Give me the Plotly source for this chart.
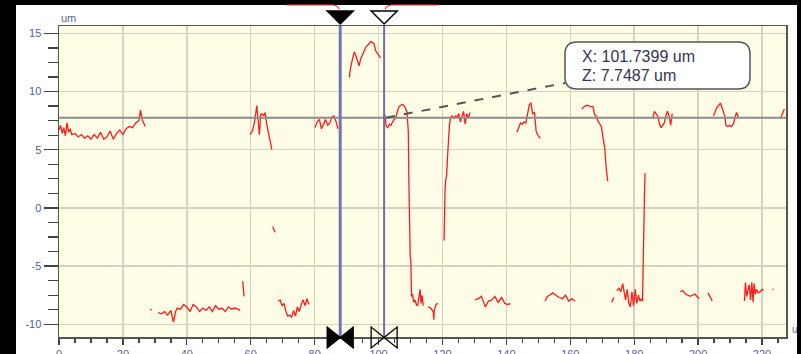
import plotly.graph_objects as go

# ---------------- data (x in um, z in um) ----------------
seg01_x = [0, 0.5, 1, 1.5, 2, 2.5, 3, 3.5, 4, 5, 6, 7, 8, 9, 10, 11, 12, 13, 14, 15, 16, 17, 18, 19, 20, 21, 22, 23, 24, 25, 25.5, 26, 27]
seg01_z = [6.7, 7.1, 6.4, 6.9, 6.2, 7.3, 6.5, 6.8, 6.3, 6.4, 6.1, 6.3, 6.0, 6.2, 5.9, 6.3, 6.0, 6.5, 5.9, 6.1, 6.6, 5.9, 6.4, 6.7, 6.3, 6.8, 7.0, 6.9, 7.3, 7.5, 8.4, 7.6, 7.0]
seg02_x = [28.5, 29.0]
seg02_z = [-8.7, -8.8]
seg03_x = [31, 32, 33, 34, 35, 35.8, 36.5, 37, 38, 39, 40, 41, 42, 43, 44, 45, 46, 47, 48, 49, 50, 51, 52, 53, 54, 55, 56, 56.7]
seg03_z = [-9.0, -9.1, -8.9, -9.2, -8.8, -9.8, -8.9, -8.6, -8.7, -8.3, -8.5, -8.9, -8.3, -8.5, -8.9, -8.6, -8.8, -8.5, -8.9, -8.4, -8.7, -8.6, -8.9, -8.5, -8.7, -8.6, -8.7, -8.8]
seg04_x = [57.5, 57.7, 57.9]
seg04_z = [-6.3, -6.9, -7.6]
seg05_x = [59.8, 60.5, 61.2, 61.6, 61.9, 62.3, 62.7, 63.1, 63.5, 64, 64.5, 65, 65.5, 66, 66.6]
seg05_z = [6.3, 6.6, 7.4, 8.2, 8.8, 7.6, 6.3, 8.0, 8.1, 7.9, 8.2, 7.2, 6.4, 5.6, 5.0]
seg06_x = [66.9, 67.2, 67.6]
seg06_z = [-1.6, -1.9, -2.1]
seg07_x = [68.6, 69.2, 69.8, 70.4, 71, 71.6, 72.2, 72.8, 73.4, 74, 74.6, 75.2, 75.8, 76.4, 77, 77.6, 78.2]
seg07_z = [-8.0, -7.9, -8.4, -8.2, -8.9, -9.3, -9.2, -9.4, -8.8, -9.3, -8.5, -8.9, -8.3, -7.9, -8.4, -7.8, -8.3]
seg08_x = [80.1, 80.8, 81.5, 82.1, 82.8, 83.4, 84.1, 84.7, 85.4, 86.0, 86.6, 87.3]
seg08_z = [6.9, 7.4, 7.6, 6.8, 7.2, 7.6, 7.1, 7.3, 7.8, 7.9, 7.5, 6.8]
seg09_x = [90.9, 91.0, 91.5, 91.9, 92.4, 92.9, 93.4, 93.9, 94.4, 94.9, 95.5, 96.0, 96.6, 97.1, 97.6, 98.1, 98.6, 99.1, 99.7, 100.2, 100.6]
seg09_z = [11.2, 11.6, 12.4, 12.9, 13.4, 13.1, 12.6, 12.2, 12.8, 13.2, 13.5, 13.8, 14.0, 14.2, 14.3, 14.2, 14.1, 13.5, 13.3, 13.1, 12.9]
seg10_x = [101.7, 102.0, 102.4, 102.9, 103.4, 103.9, 104.4, 104.9, 105.4, 105.9, 106.4, 106.9, 107.4, 107.9, 108.4, 108.9, 109.3, 109.5, 109.7, 109.9, 110.1, 110.3, 110.6, 111.0, 111.4, 111.8, 112.2, 112.6, 113.0, 113.3, 113.6, 114.0]
seg10_z = [7.75, 8.0, 7.0, 6.9, 7.2, 7.1, 7.4, 7.6, 7.8, 8.3, 8.7, 8.8, 8.9, 8.8, 8.6, 8.2, 6.6, 2.0, -2.0, -4.2, -4.5, -7.6, -7.4, -8.1, -7.9, -8.3, -8.4, -7.8, -7.0, -8.2, -7.5, -8.4]
seg11_x = [115.5, 116.3, 117.1, 117.3, 117.4, 118.0, 118.6]
seg11_z = [-8.5, -8.6, -8.9, -9.6, -8.8, -8.3, -8.2]
seg12_x = [120.5, 120.6, 120.8, 121.0, 121.3, 121.6, 121.9, 122.2, 122.6, 123.1, 123.6, 124.1, 124.6, 125.1, 125.6, 126.1, 126.6, 127.1, 127.6, 128.1, 128.6]
seg12_z = [-2.8, -0.5, 1.5, 2.4, 2.8, 4.5, 6.7, 7.2, 7.8, 7.9, 7.7, 7.9, 7.8, 8.1, 7.4, 7.9, 8.3, 7.2, 8.1, 7.7, 8.2]
seg13_x = [130.2, 131.2, 132.2, 132.8, 133.4, 134.4, 135.4, 136.4, 137.4, 138.5, 139.5, 140.5, 141.2]
seg13_z = [-7.9, -7.8, -7.6, -8.0, -8.5, -8.0, -7.9, -7.6, -8.1, -7.7, -8.2, -8.3, -8.2]
seg14_x = [143.3, 143.9, 144.4, 145.0, 145.5, 146.1, 146.6, 147.2, 147.7, 148.2, 148.8, 149.3, 149.9, 150.6]
seg14_z = [6.5, 7.0, 7.3, 7.2, 7.4, 7.3, 8.0, 8.9, 9.0, 8.1, 8.2, 6.6, 6.2, 6.0]
seg15_x = [152.1, 152.8, 153.5, 154.5, 155.5, 156.5, 157.5, 158.5, 159.5, 160.5, 161.5]
seg15_z = [-8.0, -7.6, -7.5, -7.3, -7.5, -7.7, -7.8, -7.5, -8.0, -7.8, -8.0]
seg16_x = [163.6, 164.3, 165.0, 165.6, 166.3, 167.1, 167.6, 168.1, 168.6, 169.2, 169.7, 170.1, 170.5, 170.8, 171.2, 171.5, 171.7]
seg16_z = [8.5, 8.7, 8.8, 8.8, 8.7, 8.7, 8.0, 7.9, 7.5, 7.2, 7.0, 6.3, 5.6, 5.1, 3.5, 2.8, 2.3]
seg17_x = [173.0, 173.6]
seg17_z = [-8.1, -7.7]
seg18_x = [174.6, 175.2, 175.8, 176.4, 176.9, 177.3, 177.8, 178.3, 178.8, 179.3, 179.8, 180.3, 180.8, 181.3, 181.8, 182.3, 182.6, 182.8, 183.0, 183.2, 183.4]
seg18_z = [-7.1, -6.9, -7.2, -6.5, -7.3, -7.9, -7.0, -8.2, -8.5, -7.2, -8.4, -7.0, -8.2, -7.5, -8.0, -7.8, -8.0, -4.2, 0.9, 1.0, 3.0]
seg19_x = [185.8, 186.3, 186.8, 187.4, 187.9, 188.4, 188.9, 189.4, 189.9, 190.4, 190.9, 191.4, 191.9]
seg19_z = [7.7, 8.3, 8.1, 7.9, 7.2, 6.9, 7.1, 7.3, 7.9, 8.3, 7.9, 7.1, 8.1]
seg20_x = [194.4, 195.2, 196.0, 196.8, 197.5, 198.2, 199.0, 199.6, 200.3]
seg20_z = [-7.2, -7.1, -7.4, -7.5, -7.6, -7.5, -7.4, -7.6, -7.8]
seg21_x = [203.1, 203.7, 204.4]
seg21_z = [-7.3, -7.6, -8.0]
seg22_x = [204.8, 205.3, 205.8, 206.4, 207.0, 207.5, 208.0, 208.4, 208.7, 209.2, 209.8, 210.4, 211.0, 211.5, 212.0, 212.6]
seg22_z = [7.9, 8.3, 8.6, 8.8, 9.0, 8.6, 8.1, 7.8, 7.1, 7.0, 7.1, 7.0, 7.2, 7.8, 8.2, 7.8]
seg23_x = [214.5, 214.8, 215.2, 215.6, 216.0, 216.4, 216.8, 217.2, 217.5, 217.9, 218.3, 218.8, 219.4, 220.0, 220.5]
seg23_z = [-8.0, -6.4, -7.6, -7.2, -6.6, -7.9, -6.4, -8.1, -6.5, -7.4, -7.0, -7.3, -7.2, -7.0, -7.1]
seg24_x = [223.2, 223.6]
seg24_z = [-7.0, -7.0]
seg25_x = [225.8, 226.4, 227.0]
seg25_z = [7.7, 8.2, 8.5]

segments = [
    (seg01_x, seg01_z), (seg02_x, seg02_z), (seg03_x, seg03_z), (seg04_x, seg04_z),
    (seg05_x, seg05_z), (seg06_x, seg06_z), (seg07_x, seg07_z), (seg08_x, seg08_z),
    (seg09_x, seg09_z), (seg10_x, seg10_z), (seg11_x, seg11_z), (seg12_x, seg12_z),
    (seg13_x, seg13_z), (seg14_x, seg14_z), (seg15_x, seg15_z), (seg16_x, seg16_z),
    (seg17_x, seg17_z), (seg18_x, seg18_z), (seg19_x, seg19_z), (seg20_x, seg20_z),
    (seg21_x, seg21_z), (seg22_x, seg22_z), (seg23_x, seg23_z), (seg24_x, seg24_z),
    (seg25_x, seg25_z),
]

cursor1_x = 88.0
cursor2_x = 101.7399
cursor2_z = 7.7487

x_range = [0, 227.5]
y_range = [-11.09, 15.63]
x_tickvals = [0, 20, 40, 60, 80, 100, 120, 140, 160, 180, 200, 220]
y_tickvals = [-10, -5, 0, 5, 10, 15]
y_ticktext = ["-10", "-5", "0", "5", "10", "15"]
unit_label = "um"
readout_lines = [f"X: {cursor2_x:.4f} um", f"Z: {cursor2_z:.4f} um"]

# ---------------- geometry helpers ----------------
W, H = 801, 354
ML, MR, MT, MB = 59, 15, 26, 17
PW, PH = W - ML - MR, H - MT - MB


def px2p(px, py):
    return (px - ML) / PW, (H - MB - py) / PH


def P(px, py):
    a, b = px2p(px, py)
    return f"{a:.5f},{b:.5f}"


def x2px(x):
    return ML + (x - x_range[0]) / (x_range[1] - x_range[0]) * PW


def z2py(z):
    return MT + (y_range[1] - z) / (y_range[1] - y_range[0]) * PH


# ---------------- trace ----------------
xs, zs = [], []
for sx, sz in segments:
    xs += list(sx) + [None]
    zs += list(sz) + [None]

fig = go.Figure()
fig.add_trace(go.Scatter(x=xs, y=zs, mode="lines", connectgaps=False,
                         line=dict(color="#ff1a1a", width=1.3), hoverinfo="skip"))

shapes = []
# horizontal cursor line
shapes.append(dict(type="line", xref="paper", yref="y", x0=0, x1=1, y0=cursor2_z, y1=cursor2_z,
                   line=dict(color="#8c8c8c", width=2), layer="above"))
# vertical cursor lines
shapes.append(dict(type="line", xref="x", yref="paper", x0=cursor1_x, x1=cursor1_x, y0=0, y1=1,
                   line=dict(color="#7074b8", width=3), layer="above"))
shapes.append(dict(type="line", xref="x", yref="paper", x0=cursor2_x, x1=cursor2_x, y0=0, y1=1,
                   line=dict(color="#6a6eb6", width=2), layer="above"))

# dashed leader from cursor point to read-out box
c2px, c2py = x2px(cursor2_x), z2py(cursor2_z)
shapes.append(dict(type="path", xref="paper", yref="paper",
                   path=f"M {P(c2px + 2, c2py)} L {P(565, 83)}",
                   line=dict(color="#555555", width=2, dash="dash"), layer="above"))

# rounded read-out box
bx0, bx1, by0, by1, r = 565, 750, 42, 89, 12
box = (f"M {P(bx0 + r, by0)} L {P(bx1 - r, by0)} Q {P(bx1, by0)} {P(bx1, by0 + r)} "
       f"L {P(bx1, by1 - r)} Q {P(bx1, by1)} {P(bx1 - r, by1)} L {P(bx0 + r, by1)} "
       f"Q {P(bx0, by1)} {P(bx0, by1 - r)} L {P(bx0, by0 + r)} Q {P(bx0, by0)} {P(bx0 + r, by0)} Z")
shapes.append(dict(type="path", xref="paper", yref="paper", path=box, fillcolor="white",
                   line=dict(color="#555555", width=1.5), layer="above"))

# black frame around the window
for (x0, y0, x1, y1) in [(0, 0, 16, H + 5), (0, -5, W + 5, 5), (797, 0, W + 5, H + 5)]:
    a0, b0 = px2p(x0, y0)
    a1, b1 = px2p(x1, y1)
    shapes.append(dict(type="rect", xref="paper", yref="paper", x0=a0, x1=a1, y0=b0, y1=b1,
                       fillcolor="black", line=dict(width=0), layer="above"))

# red range marker at the very top
c1px = x2px(cursor1_x)
c2pxx = x2px(cursor2_x)
shapes.append(dict(type="path", xref="paper", yref="paper",
                   path=f"M {P(287, 5)} L {P(c1px - 8, 5)} Q {P(c1px - 3, 5)} {P(c1px - 1, 9)}",
                   line=dict(color="#ff3030", width=1.2), layer="above"))
shapes.append(dict(type="path", xref="paper", yref="paper",
                   path=f"M {P(c2pxx + 1, 9)} Q {P(c2pxx + 3, 5)} {P(c2pxx + 8, 5)} L {P(438, 5)}",
                   line=dict(color="#ff3030", width=1.2), layer="above"))


def tri_down(cx, filled):
    return dict(type="path", xref="paper", yref="paper",
                path=f"M {P(cx - 13, 11)} L {P(cx + 13, 11)} L {P(cx, 24)} Z",
                fillcolor="black" if filled else "white",
                line=dict(color="black", width=1.5), layer="above")


def bowtie(cx, filled):
    fc = "black" if filled else "rgba(0,0,0,0)"
    return [
        dict(type="path", xref="paper", yref="paper",
             path=f"M {P(cx - 13, 327)} L {P(cx - 13, 348)} L {P(cx, 337.5)} Z",
             fillcolor=fc, line=dict(color="black", width=1.3), layer="above"),
        dict(type="path", xref="paper", yref="paper",
             path=f"M {P(cx + 13, 327)} L {P(cx + 13, 348)} L {P(cx, 337.5)} Z",
             fillcolor=fc, line=dict(color="black", width=1.3), layer="above"),
    ]


shapes.append(tri_down(c1px, True))
shapes.append(tri_down(c2pxx, False))
shapes += bowtie(c1px, True)
shapes += bowtie(c2pxx, False)

annotations = []
for i, t in enumerate(readout_lines):
    a, b = px2p(580, 56 + 19 * i)
    annotations.append(dict(xref="paper", yref="paper", x=a, y=b, xanchor="left", yanchor="middle",
                            text=t, showarrow=False,
                            font=dict(family="Liberation Sans, Arial, sans-serif", size=16, color="#34344e")))
a, b = px2p(59, 18)
annotations.append(dict(xref="paper", yref="paper", x=a, y=b, xanchor="left", yanchor="middle",
                        text=unit_label, showarrow=False,
                        font=dict(family="Liberation Sans, Arial, sans-serif", size=11, color="#5a6a90")))
a, b = px2p(790, 329)
annotations.append(dict(xref="paper", yref="paper", x=a, y=b, xanchor="left", yanchor="middle",
                        text=unit_label[0], showarrow=False,
                        font=dict(family="Liberation Sans, Arial, sans-serif", size=10, color="#5a6a90")))

axis_font = dict(family="Liberation Sans, Arial, sans-serif", size=11, color="#55658a")

fig.update_layout(
    width=W, height=H, autosize=False,
    margin=dict(l=ML, r=MR, t=MT, b=MB, pad=0, autoexpand=False),
    paper_bgcolor="white",
    plot_bgcolor="#fffde6",
    showlegend=False,
    shapes=shapes,
    annotations=annotations,
    xaxis=dict(range=x_range, tickmode="array", tickvals=x_tickvals, automargin=False,
               ticks="outside", ticklen=6, tickwidth=1.3, tickcolor="#444444",
               showgrid=True, gridcolor="#d3d3c3", gridwidth=1.5, zeroline=False,
               showline=True, linecolor="#555555", linewidth=1.5, mirror=True,
               tickfont=axis_font,
               minor=dict(tick0=0, dtick=5, ticks="outside", ticklen=4, tickcolor="#444444",
                          tickwidth=1.3, showgrid=False)),
    yaxis=dict(range=y_range, tickmode="array", tickvals=y_tickvals, ticktext=y_ticktext, automargin=False,
               ticks="outside", ticklen=14, tickwidth=1.5, tickcolor="#444444",
               showgrid=True, gridcolor="#d3d3c3", gridwidth=1.5, zeroline=False,
               showline=True, linecolor="#555555", linewidth=1.5, mirror=True,
               tickfont=axis_font,
               minor=dict(tick0=0, dtick=1.25, ticks="outside", ticklen=10, tickcolor="#444444",
                          tickwidth=1.3, showgrid=False)),
)

fig.write_html("out.html", config={"displayModeBar": False, "staticPlot": True},
               post_script="document.body.style.margin='0px';document.body.style.background='black';")
